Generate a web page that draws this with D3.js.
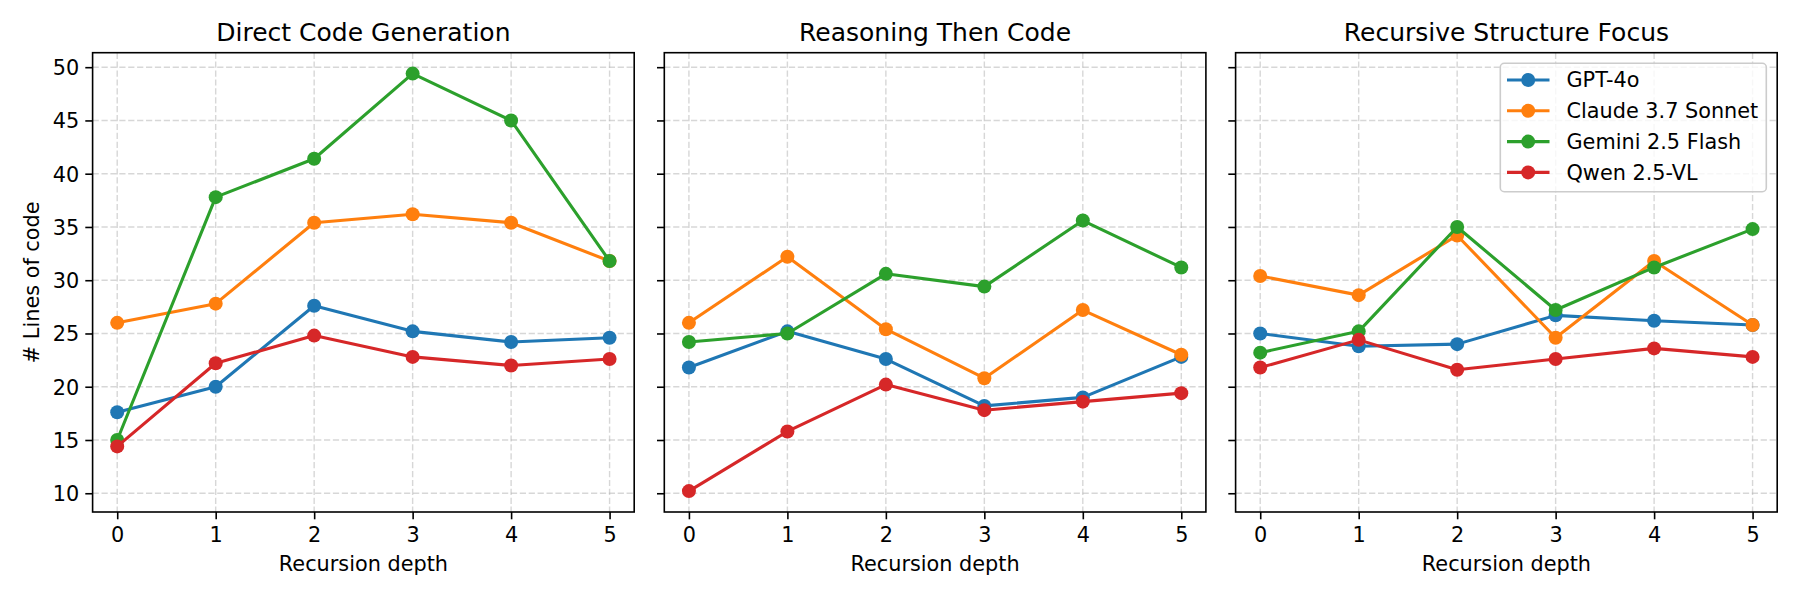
<!DOCTYPE html>
<html>
<head>
<meta charset="utf-8">
<script src="https://cdn.jsdelivr.net/npm/d3@7"></script>
<style>
  body { margin: 0; background: #fff; }
  svg text { font-family: "DejaVu Sans", sans-serif; fill: #000; }
</style>
</head>
<body>
<div id="chart"></div>
<script>
var depths = [0, 1, 2, 3, 4, 5];
var panel_titles = ["Direct Code Generation", "Reasoning Then Code", "Recursive Structure Focus"];
var model_names = ["GPT-4o", "Claude 3.7 Sonnet", "Gemini 2.5 Flash", "Qwen 2.5-VL"];
var model_colors = ["#1f77b4", "#ff7f0e", "#2ca02c", "#d62728"];
var y_ticks = [10, 15, 20, 25, 30, 35, 40, 45, 50];

// values per panel, one row per model (same order as model_names)
var direct_code = [
  [17.6, 20.0, 27.6, 25.2, 24.2, 24.6],
  [26.0, 27.8, 35.4, 36.2, 35.4, 31.8],
  [15.0, 37.8, 41.4, 49.4, 45.0, 31.8],
  [14.4, 22.2, 24.8, 22.8, 22.0, 22.6]
];
var reasoning_code = [
  [21.8, 25.2, 22.6, 18.2, 19.0, 22.8],
  [26.0, 32.2, 25.4, 20.8, 27.2, 23.0],
  [24.2, 25.0, 30.6, 29.4, 35.6, 31.2],
  [10.2, 15.8, 20.2, 17.8, 18.6, 19.4]
];
var recursive_focus = [
  [25.0, 23.8, 24.0, 26.7, 26.2, 25.8],
  [30.4, 28.6, 34.2, 24.6, 31.8, 25.8],
  [23.2, 25.2, 35.0, 27.2, 31.2, 34.8],
  [21.8, 24.4, 21.6, 22.6, 23.6, 22.8]
];
var panel_data = [direct_code, reasoning_code, recursive_focus];

var W = 1800, H = 600;
var fs = 20.8;
var panel_left = [92.6, 664.3, 1235.6];
var panel_w = 541.6;
var top_y = 52.7, bottom_y = 512;
var tick_len = 7.3;

var svg = d3.select("#chart").append("svg")
  .attr("width", W)
  .attr("height", H);

// shared y scale, 5% padding like matplotlib
var all_vals = [];
panel_data.forEach(function(p) { p.forEach(function(s) { all_vals = all_vals.concat(s); }); });
var ymin = d3.min(all_vals), ymax = d3.max(all_vals);
var ypad = (ymax - ymin) * 0.05;
var y = d3.scaleLinear()
  .domain([ymin - ypad, ymax + ypad])
  .range([bottom_y, top_y]);

panel_data.forEach(function(series, pi) {
  var x0 = panel_left[pi];
  var x = d3.scaleLinear()
    .domain([-0.25, 5.25])
    .range([x0, x0 + panel_w]);

  var g = svg.append("g");

  // grid
  g.selectAll(".vgrid")
    .data(depths)
    .enter().append("line")
      .attr("x1", function(d) { return x(d); })
      .attr("x2", function(d) { return x(d); })
      .attr("y1", top_y)
      .attr("y2", bottom_y)
      .attr("stroke", "#b0b0b0")
      .attr("stroke-opacity", 0.5)
      .attr("stroke-width", 1.4)
      .attr("stroke-dasharray", "6.2,2.7");
  g.selectAll(".hgrid")
    .data(y_ticks)
    .enter().append("line")
      .attr("x1", x0)
      .attr("x2", x0 + panel_w)
      .attr("y1", function(d) { return y(d); })
      .attr("y2", function(d) { return y(d); })
      .attr("stroke", "#b0b0b0")
      .attr("stroke-opacity", 0.5)
      .attr("stroke-width", 1.4)
      .attr("stroke-dasharray", "6.2,2.7");

  // axes
  var xa = g.append("g")
    .attr("transform", "translate(0," + bottom_y + ")")
    .call(d3.axisBottom(x).tickValues(depths).tickSize(tick_len).tickPadding(6)
      .tickFormat(d3.format("d")));
  var ya = g.append("g")
    .attr("transform", "translate(" + x0 + ",0)")
    .call(d3.axisLeft(y).tickValues(y_ticks).tickSize(tick_len).tickPadding(6)
      .tickFormat(pi == 0 ? d3.format("d") : function() { return ""; }));
  [xa, ya].forEach(function(a) {
    a.select(".domain").remove();
    a.selectAll(".tick line").attr("stroke", "#000").attr("stroke-width", 1.6);
    a.selectAll(".tick text").attr("font-size", fs).attr("fill", "#000");
  });
  xa.selectAll(".tick text").attr("dy", "0.78em");
  ya.selectAll(".tick text").attr("dy", "0.36em");

  // lines and markers
  var line = d3.line()
    .x(function(d, i) { return x(depths[i]); })
    .y(function(d) { return y(d); });
  series.forEach(function(vals, si) {
    g.append("path")
      .attr("d", line(vals))
      .attr("fill", "none")
      .attr("stroke", model_colors[si])
      .attr("stroke-width", 3.1)
      .attr("stroke-linejoin", "round");
    g.selectAll(".pt" + si)
      .data(vals)
      .enter().append("circle")
        .attr("cx", function(d, i) { return x(depths[i]); })
        .attr("cy", function(d) { return y(d); })
        .attr("r", 7)
        .attr("fill", model_colors[si]);
  });

  // frame
  g.append("rect")
    .attr("x", x0)
    .attr("y", top_y)
    .attr("width", panel_w)
    .attr("height", bottom_y - top_y)
    .attr("fill", "none")
    .attr("stroke", "#000")
    .attr("stroke-width", 1.6);

  // title, x label
  g.append("text")
    .attr("x", x0 + panel_w / 2)
    .attr("y", 40.5)
    .attr("text-anchor", "middle")
    .attr("font-size", 25)
    .text(panel_titles[pi]);
  g.append("text")
    .attr("x", x0 + panel_w / 2)
    .attr("y", 571)
    .attr("text-anchor", "middle")
    .attr("font-size", fs)
    .text("Recursion depth");

  if (pi == 0) {
    g.append("text")
      .attr("transform", "translate(39," + ((top_y + bottom_y) / 2) + ") rotate(-90)")
      .attr("text-anchor", "middle")
      .attr("font-size", fs)
      .text("# Lines of code");
  }

  if (pi == 2) {
    var lg = g.append("g");
    lg.append("rect")
      .attr("x", 1500.3)
      .attr("y", 63.3)
      .attr("width", 266)
      .attr("height", 128.4)
      .attr("rx", 4)
      .attr("fill", "#fff")
      .attr("fill-opacity", 0.8)
      .attr("stroke", "#cccccc")
      .attr("stroke-width", 1.6);
    model_names.forEach(function(name, i) {
      var cy = 80 + i * 30.8;
      lg.append("line")
        .attr("x1", 1507).attr("x2", 1549.5)
        .attr("y1", cy).attr("y2", cy)
        .attr("stroke", model_colors[i])
        .attr("stroke-width", 3.1);
      lg.append("circle")
        .attr("cx", 1528.2).attr("cy", cy)
        .attr("r", 7)
        .attr("fill", model_colors[i]);
      lg.append("text")
        .attr("x", 1566.5)
        .attr("y", cy)
        .attr("dy", "0.36em")
        .attr("font-size", fs)
        .text(name);
    });
  }
});
</script>
</body>
</html>
